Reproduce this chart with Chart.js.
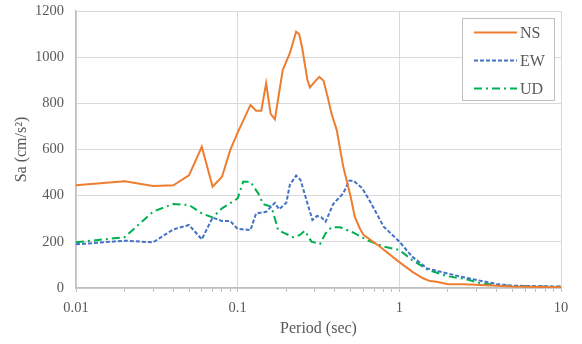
<!DOCTYPE html>
<html>
<head>
<meta charset="utf-8">
<script src="https://cdn.jsdelivr.net/npm/chart.js@4/dist/chart.umd.min.js"></script>
<style>
  html, body { margin: 0; padding: 0; background: #fff; }
  #wrap { width: 582px; height: 344px; }
</style>
</head>
<body>
<div id="wrap"><canvas id="spectrum"></canvas></div>
<script>
// Response spectra, three components
const periodNS = [0.01, 0.02, 0.03, 0.04, 0.05, 0.06, 0.07, 0.08, 0.09, 0.1, 0.12, 0.13, 0.14, 0.15, 0.16, 0.17, 0.19, 0.21, 0.23, 0.24, 0.25, 0.27, 0.28, 0.3, 0.32, 0.34, 0.36, 0.38, 0.41, 0.45, 0.5, 0.53, 0.57, 0.6, 0.63, 0.76, 1.0, 1.2, 1.4, 1.55, 1.7, 2.0, 2.5, 3.2, 5, 10];
const saNS = [445, 462, 442, 445, 488, 612, 439, 482, 598, 673, 793, 768, 768, 887, 754, 731, 944, 1016, 1110, 1100, 1045, 901, 869, 894, 915, 898, 829, 757, 684, 525, 395, 309, 258, 230, 220, 179, 112, 71, 42, 30, 27, 16, 16, 13, 6, 3];

const periodEW = [0.01, 0.02, 0.03, 0.04, 0.05, 0.06, 0.07, 0.08, 0.09, 0.1, 0.12, 0.13, 0.15, 0.17, 0.18, 0.2, 0.21, 0.23, 0.245, 0.27, 0.29, 0.31, 0.33, 0.35, 0.39, 0.45, 0.49, 0.52, 0.59, 0.66, 0.8, 1.0, 1.2, 1.48, 1.79, 2.3, 3.15, 4, 5, 10];
const saEW = [189, 205, 198, 254, 273, 211, 305, 290, 290, 256, 251, 323, 330, 369, 341, 369, 446, 487, 468, 367, 295, 312, 306, 287, 364, 410, 465, 465, 432, 374, 266, 201, 136, 85, 71, 52, 32, 17, 10, 6];

const periodUD = [0.01, 0.02, 0.03, 0.04, 0.05, 0.06, 0.07, 0.08, 0.1, 0.108, 0.12, 0.134, 0.144, 0.162, 0.178, 0.196, 0.22, 0.243, 0.26, 0.286, 0.323, 0.35, 0.38, 0.43, 0.52, 0.63, 0.8, 1.0, 1.2, 1.48, 1.96, 2.6, 3.2, 4.4, 10];
const saUD = [198, 220, 331, 364, 360, 323, 306, 345, 388, 460, 460, 410, 363, 352, 251, 237, 220, 230, 248, 201, 191, 237, 263, 263, 240, 208, 179, 165, 121, 81, 52, 38, 20, 10, 5];

const xMajors = [0.01, 0.1, 1, 10];
const yTicks = [0, 200, 400, 600, 800, 1000, 1200];

const TEXT = '#595959';
const GRID = '#d9d9d9';
const AXIS = '#bfbfbf';
const FONT = '"Liberation Serif", "Times New Roman", serif';

const toPoints = (xs, ys) => xs.map((x, i) => ({ x: x, y: ys[i] }));

const isMajor = (v) => {
  const l = Math.log10(v);
  return Math.abs(l - Math.round(l)) < 1e-9;
};

// legend drawn inside the plot, top right, boxed
const boxLegend = {
  id: 'boxLegend',
  afterDraw(chart) {
    const ctx = chart.ctx;
    const area = chart.chartArea;
    const w = 92, h = 82;
    const left = area.right - 7 - w;
    const top = area.top + 7;
    ctx.save();
    ctx.fillStyle = '#fff';
    ctx.fillRect(left, top, w, h);
    ctx.strokeStyle = AXIS;
    ctx.lineWidth = 1;
    ctx.strokeRect(left + 0.5, top + 0.5, w, h);
    ctx.font = '16px ' + FONT;
    ctx.textBaseline = 'middle';
    ctx.fillStyle = TEXT;
    chart.data.datasets.forEach((ds, i) => {
      const y = Math.round(top + 14 + i * 28) + 0.5;
      ctx.beginPath();
      ctx.setLineDash(ds.borderDash || []);
      ctx.strokeStyle = ds.borderColor;
      ctx.lineWidth = ds.borderWidth;
      ctx.moveTo(left + 12, y);
      ctx.lineTo(left + 55, y);
      ctx.stroke();
      ctx.setLineDash([]);
      ctx.fillText(ds.label, left + 58, y + 1);
    });
    ctx.restore();
  }
};

new Chart(document.getElementById('spectrum'), {
  type: 'line',
  data: {
    datasets: [
      {
        label: 'NS',
        data: toPoints(periodNS, saNS),
        borderColor: '#ed7d31',
        borderWidth: 2,
        pointRadius: 0,
        tension: 0
      },
      {
        label: 'EW',
        data: toPoints(periodEW, saEW),
        borderColor: '#4472c4',
        borderWidth: 2,
        borderDash: [4, 2],
        pointRadius: 0,
        tension: 0
      },
      {
        label: 'UD',
        data: toPoints(periodUD, saUD),
        borderColor: '#00b050',
        borderWidth: 2,
        borderDash: [8, 4, 2, 4],
        pointRadius: 0,
        tension: 0
      }
    ]
  },
  options: {
    responsive: true,
    maintainAspectRatio: false,
    animation: false,
    layout: { padding: { top: 11, right: 21, left: 0, bottom: 0 } },
    plugins: {
      legend: { display: false },
      tooltip: { enabled: false }
    },
    scales: {
      x: {
        type: 'logarithmic',
        min: 0.01,
        max: 10,
        afterBuildTicks(scale) {
          const ticks = [];
          for (let e = -2; e <= 0; e++) {
            for (let s = 1; s <= 9; s++) {
              const v = +(s * Math.pow(10, e)).toFixed(4);
              ticks.push({ value: v, major: s === 1 });
            }
          }
          ticks.push({ value: 10, major: true });
          scale.ticks = ticks;
        },
        afterFit(scale) { scale.height = 56; },
        ticks: {
          autoSkip: false,
          maxRotation: 0,
          color: TEXT,
          font: { family: FONT, size: 14.5 },
          padding: 7,
          callback: (v) => (xMajors.some((m) => Math.abs(m - v) < 1e-9) ? String(v) : '')
        },
        grid: {
          color: (c) => (c.tick && isMajor(c.tick.value) ? GRID : 'rgba(0,0,0,0)'),
          tickColor: AXIS,
          tickLength: 4,
          lineWidth: 1
        },
        border: { color: AXIS, width: 1.5 },
        title: {
          display: true,
          text: 'Period (sec)',
          color: TEXT,
          font: { family: FONT, size: 16 },
          padding: { top: 0, bottom: 6 }
        }
      },
      y: {
        min: 0,
        max: 1200,
        afterBuildTicks(scale) {
          scale.ticks = yTicks.map((v) => ({ value: v }));
        },
        afterFit(scale) { scale.width = 76; },
        ticks: {
          color: TEXT,
          font: { family: FONT, size: 14.5 },
          padding: 0,
          callback: (v) => String(v)
        },
        // invisible tick marks keep the gap between labels and the axis
        grid: { color: GRID, lineWidth: 1, drawTicks: true, tickLength: 12, tickColor: 'rgba(0,0,0,0)' },
        border: { color: AXIS, width: 1.5 },
        title: {
          display: true,
          text: 'Sa (cm/s²)',
          color: TEXT,
          font: { family: FONT, size: 16 },
          padding: { top: 12, bottom: 0 }
        }
      }
    }
  },
  plugins: [boxLegend]
});
</script>
</body>
</html>
